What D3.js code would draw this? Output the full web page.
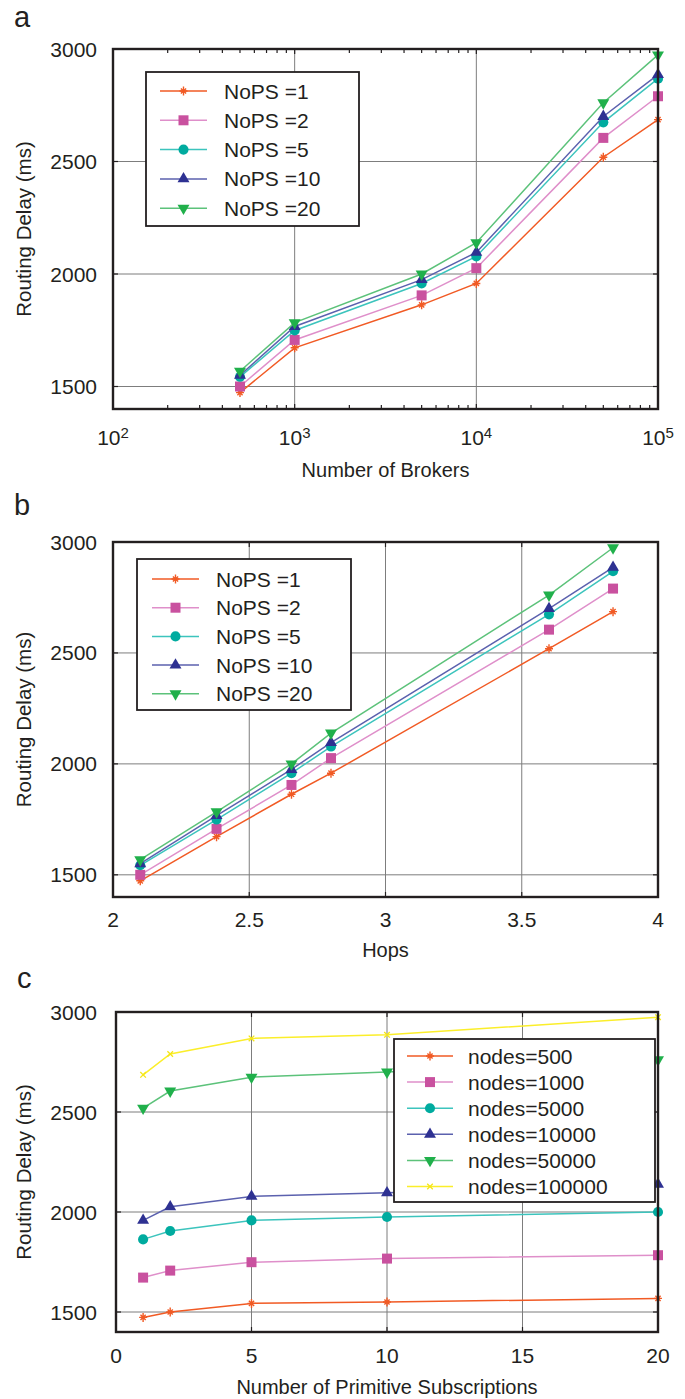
<!DOCTYPE html>
<html>
<head>
<meta charset="utf-8">
<script src="https://cdn.jsdelivr.net/npm/d3@7"></script>
<style>
body { margin: 0; background: #fff; }
text { font-family: "Liberation Sans", Arial, sans-serif; fill: #231f20; }
</style>
</head>
<body>
<svg id="chart"></svg>
<script>
// values: routing delay (ms) per network size, for NoPS = 1, 2, 5, 10, 20
const nops = [1, 2, 5, 10, 20];
const brokers = [500, 1000, 5000, 10000, 50000, 100000];
const hops = [2.1, 2.38, 2.655, 2.8, 3.6, 3.835];
const delay500 = [1473, 1500, 1543, 1550, 1568];
const delay1000 = [1672, 1707, 1749, 1767, 1784];
const delay5000 = [1863, 1905, 1958, 1975, 2000];
const delay10000 = [1958, 2026, 2078, 2096, 2139];
const delay50000 = [2519, 2605, 2674, 2700, 2761];
const delay100000 = [2686, 2790, 2868, 2886, 2974];
const yTicks = [1500, 2000, 2500, 3000];
const nopsNames = ["NoPS =1", "NoPS =2", "NoPS =5", "NoPS =10", "NoPS =20"];
const nodeNames = ["nodes=500", "nodes=1000", "nodes=5000", "nodes=10000", "nodes=50000", "nodes=100000"];

const delays = [delay500, delay1000, delay5000, delay10000, delay50000, delay100000];

// styles: marker colour, line colour, marker type
const styles = [
    {mark: "#f15a24", line: "#f15a24", shape: "star"},
    {mark: "#c9519f", line: "#df8fca", shape: "square"},
    {mark: "#00ab9f", line: "#3cc4bd", shape: "circle"},
    {mark: "#2e3192", line: "#5b61ae", shape: "up"},
    {mark: "#20b04b", line: "#5cc27a", shape: "down"},
    {mark: "#f5e616", line: "#fbee2a", shape: "cross"}
];

const svg = d3.select("#chart").attr("width", 685).attr("height", 1399);
svg.append("rect").attr("width", 685).attr("height", 1399).attr("fill", "#fff");

function drawMarker(g, shape, color) {
    if (shape == "star") {
        g.append("path").attr("d", "M0,-4.5V4.5M-4,0H4M-2.6,-2.6L2.6,2.6M-2.6,2.6L2.6,-2.6")
            .attr("stroke", color).attr("stroke-width", 1.4).attr("fill", "none");
    } else if (shape == "cross") {
        g.append("path").attr("d", "M-2.8,-2.8L2.8,2.8M-2.8,2.8L2.8,-2.8")
            .attr("stroke", color).attr("stroke-width", 1.3).attr("fill", "none");
    } else {
        let sym = d3.symbolSquare, size = 100, rot = 0;
        if (shape == "circle") { sym = d3.symbolCircle; size = 80; }
        if (shape == "up") { sym = d3.symbolTriangle; size = 62; }
        if (shape == "down") { sym = d3.symbolTriangle; size = 62; rot = 180; }
        g.append("path").attr("d", d3.symbol(sym, size)())
            .attr("transform", `rotate(${rot})`)
            .attr("fill", color);
    }
}

function drawPanel(p) {
    const x = p.x.range([p.left, p.right]);
    const y = d3.scaleLinear().domain([1400, 3000]).range([p.bottom, p.top]);
    const g = svg.append("g");

    // panel letter
    g.append("text").attr("x", p.left - 99).attr("y", p.letterY)
        .style("font-size", "29px").text(p.letter);

    // grid
    g.append("g").selectAll("line").data(p.xTicks.slice(1, -1)).join("line")
        .attr("x1", d => x(d)).attr("x2", d => x(d))
        .attr("y1", p.top).attr("y2", p.bottom)
        .attr("stroke", "#7d7d7d").attr("stroke-width", 1);
    g.append("g").selectAll("line").data(yTicks.slice(0, -1)).join("line")
        .attr("x1", p.left).attr("x2", p.right)
        .attr("y1", d => y(d)).attr("y2", d => y(d))
        .attr("stroke", "#7d7d7d").attr("stroke-width", 1);

    // inward ticks
    const tk = g.append("g").attr("stroke", "#231f20").attr("stroke-width", 1.2);
    yTicks.forEach(v => {
        tk.append("line").attr("x1", p.left).attr("x2", p.left + 5).attr("y1", y(v)).attr("y2", y(v));
        tk.append("line").attr("x1", p.right).attr("x2", p.right - 5).attr("y1", y(v)).attr("y2", y(v));
    });
    p.xTicks.forEach(v => {
        tk.append("line").attr("x1", x(v)).attr("x2", x(v)).attr("y1", p.bottom).attr("y2", p.bottom - 5);
        tk.append("line").attr("x1", x(v)).attr("x2", x(v)).attr("y1", p.top).attr("y2", p.top + 5);
    });
    (p.minor || []).forEach(v => {
        tk.append("line").attr("x1", x(v)).attr("x2", x(v)).attr("y1", p.bottom).attr("y2", p.bottom - 4);
        tk.append("line").attr("x1", x(v)).attr("x2", x(v)).attr("y1", p.top).attr("y2", p.top + 4);
    });

    // series
    const line = d3.line().x(d => x(d[0])).y(d => y(d[1]));
    p.series.forEach((s, i) => {
        const st = p.styles[i];
        const pts = p.xs.map((xv, k) => [xv, s[k]]);
        g.append("path").datum(pts).attr("d", line)
            .attr("fill", "none").attr("stroke", st.line).attr("stroke-width", 1.5);
        pts.forEach(d => {
            const m = g.append("g").attr("transform", `translate(${x(d[0])},${y(d[1])})`);
            drawMarker(m, st.shape, st.mark);
        });
    });

    // legend
    const L = p.legend;
    const lg = g.append("g");
    lg.append("rect").attr("x", L.x0).attr("y", L.y0)
        .attr("width", L.x1 - L.x0).attr("height", L.y1 - L.y0)
        .attr("fill", "#fff").attr("stroke", "#231f20").attr("stroke-width", 1.8);
    p.names.forEach((nm, i) => {
        const st = p.styles[i];
        const ry = L.rowY + i * L.step;
        lg.append("line").attr("x1", L.lx0).attr("x2", L.lx1).attr("y1", ry).attr("y2", ry)
            .attr("stroke", st.line).attr("stroke-width", 1.5);
        const m = lg.append("g").attr("transform", `translate(${(L.lx0 + L.lx1) / 2},${ry})`);
        drawMarker(m, st.shape, st.mark);
        lg.append("text").attr("x", L.tx).attr("y", ry).attr("dy", "0.36em")
            .style("font-size", "21px").text(nm);
    });

    // frame
    g.append("rect").attr("x", p.left).attr("y", p.top)
        .attr("width", p.right - p.left).attr("height", p.bottom - p.top)
        .attr("fill", "none").attr("stroke", "#231f20").attr("stroke-width", 2.4);

    // y tick labels
    g.append("g").selectAll("text").data(yTicks).join("text")
        .attr("x", 97).attr("y", d => y(d)).attr("dy", "0.36em")
        .attr("text-anchor", "end").style("font-size", "21px")
        .text(d => d);

    // x tick labels
    const xl = g.append("g").selectAll("text").data(p.xTicks).join("text")
        .attr("x", d => x(d)).attr("y", p.tickY)
        .attr("text-anchor", "middle").style("font-size", "21px");
    if (p.log) {
        xl.text("10").append("tspan").attr("dy", "-0.45em").style("font-size", "15px")
            .text(d => Math.round(Math.log10(d)));
    } else {
        xl.text(d => d);
    }

    // axis titles
    g.append("text").attr("x", (p.left + p.right) / 2).attr("y", p.titleY)
        .attr("text-anchor", "middle").style("font-size", "20px").text(p.xTitle);
    g.append("text").attr("transform", `translate(31,${(p.top + p.bottom) / 2}) rotate(-90)`)
        .attr("text-anchor", "middle").style("font-size", "20.5px").text("Routing Delay (ms)");
}

// panel a and b: one series per NoPS, across network sizes
const byNops = nops.map((n, j) => delays.map(row => row[j]));

const minorLog = [];
[100, 1000, 10000].forEach(b => { for (let k = 2; k <= 9; k++) minorLog.push(b * k); });

drawPanel({
    letter: "a", letterY: 27, top: 49, bottom: 409, left: 113, right: 658,
    x: d3.scaleLog().domain([100, 100000]), log: true,
    xTicks: [100, 1000, 10000, 100000], minor: minorLog,
    xs: brokers, series: byNops, names: nopsNames, styles: styles.slice(0, 5),
    tickY: 445, titleY: 477, xTitle: "Number of Brokers",
    legend: {x0: 146, y0: 72, x1: 359, y1: 226, rowY: 91, step: 29.3, lx0: 160, lx1: 207, tx: 224}
});

drawPanel({
    letter: "b", letterY: 515, top: 542, bottom: 897, left: 113, right: 658,
    x: d3.scaleLinear().domain([2, 4]),
    xTicks: [2, 2.5, 3, 3.5, 4],
    xs: hops, series: byNops, names: nopsNames, styles: styles.slice(0, 5),
    tickY: 927, titleY: 957, xTitle: "Hops",
    legend: {x0: 137, y0: 559, x1: 351, y1: 710, rowY: 579, step: 28.7, lx0: 152, lx1: 199, tx: 216}
});

drawPanel({
    letter: "c", letterY: 988, top: 1012, bottom: 1332, left: 116, right: 658,
    x: d3.scaleLinear().domain([0, 20]),
    xTicks: [0, 5, 10, 15, 20],
    xs: nops, series: delays, names: nodeNames, styles: styles,
    tickY: 1363, titleY: 1394, xTitle: "Number of Primitive Subscriptions",
    legend: {x0: 394, y0: 1039, x1: 655, y1: 1202, rowY: 1056, step: 26.1, lx0: 407, lx1: 453, tx: 468}
});
</script>
</body>
</html>
